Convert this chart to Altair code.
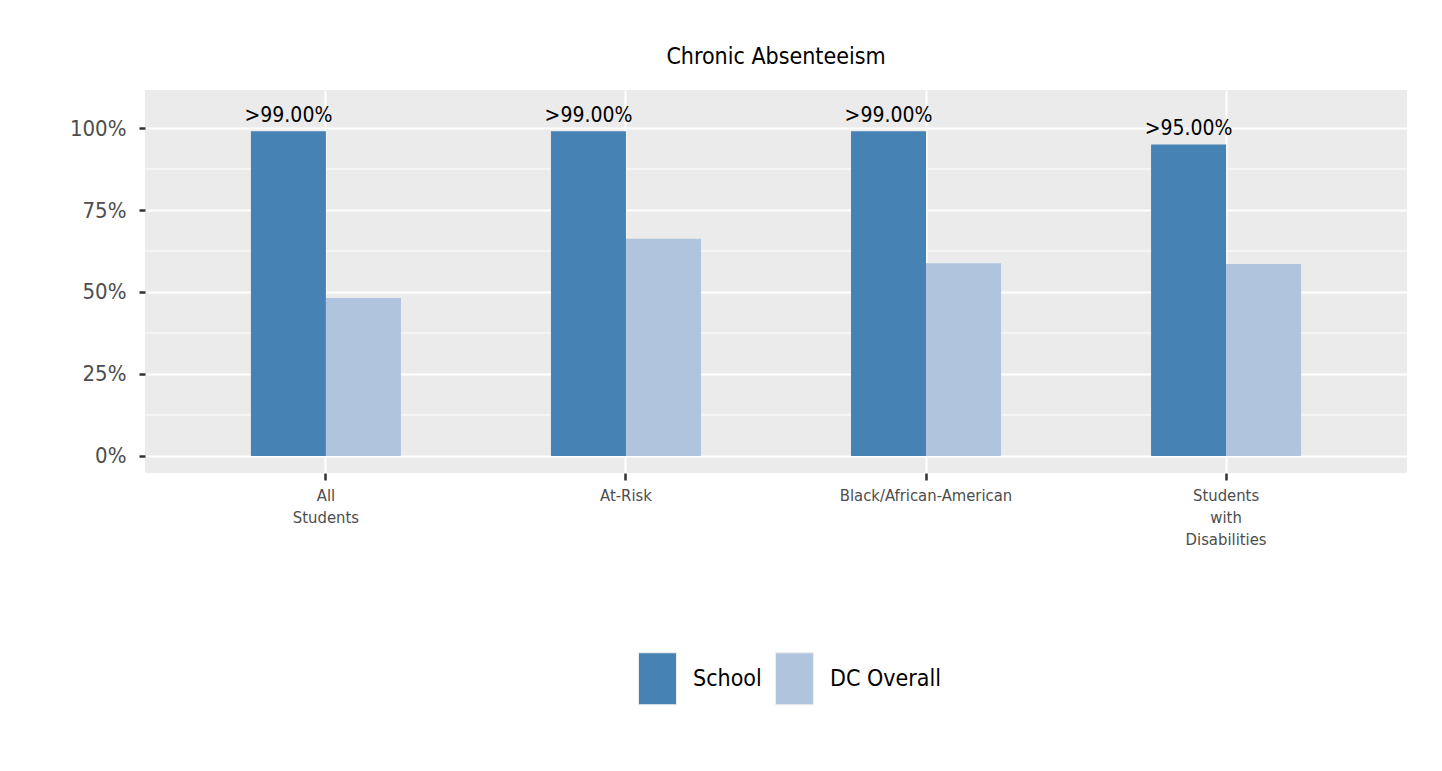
import altair as alt
import pandas as pd

categories = ["All\nStudents", "At-Risk", "Black/African-American", "Students\nwith\nDisabilities"]
groups = ["School", "DC Overall"]
school_values = [99.0, 99.0, 99.0, 95.0]
dc_values = [48.2, 66.2, 58.8, 58.5]
school_labels = [">99.00%", ">99.00%", ">99.00%", ">95.00%"]
y_ticks = [0, 25, 50, 75, 100]
minor_grid = [12.5, 37.5, 62.5, 87.5]
colors = ["#4682B4", "#B0C4DE"]

FONT = "DejaVu Sans Condensed, Liberation Sans Narrow, Liberation Sans, sans-serif"

rows = []
for c, s, d in zip(categories, school_values, dc_values):
    rows.append({"category": c, "group": "School", "value": s})
    rows.append({"category": c, "group": "DC Overall", "value": d})
df = pd.DataFrame(rows)
lab_df = pd.DataFrame({"category": categories, "group": ["School"] * 4,
                       "value": school_values, "label": school_labels})
grid_df = pd.DataFrame({"v": minor_grid})

yscale = alt.Scale(domain=[-5.2, 111.6], nice=False, zero=False)
xscale = alt.Scale(domain=categories, paddingInner=0.5, paddingOuter=0.353)
offscale = alt.Scale(domain=groups, paddingInner=0, paddingOuter=0)

minor = alt.Chart(grid_df).mark_rule(color="white", strokeWidth=1).encode(
    y=alt.Y("v:Q", scale=yscale)
)

bars = alt.Chart(df).mark_bar(stroke=None).encode(
    x=alt.X("category:N", scale=xscale, sort=categories,
            axis=alt.Axis(title=None, labelAngle=0, labelExpr="split(datum.label, '\\n')",
                          labelFontSize=16.5, labelLineHeight=22, labelColor="#4d4d4d",
                          labelFont=FONT, tickColor="#333333", tickSize=7, tickWidth=2.5,
                          labelPadding=7, domain=False, grid=True, gridColor="white",
                          gridWidth=2, bandPosition=0.5, labelBaseline="top", labelLimit=0)),
    xOffset=alt.XOffset("group:N", scale=offscale, sort=groups),
    y=alt.Y("value:Q", scale=yscale,
            axis=alt.Axis(title=None, values=y_ticks, labelExpr="datum.value + '%'",
                          labelFontSize=22, labelColor="#4d4d4d", labelFont=FONT,
                          tickColor="#333333", tickSize=6, tickWidth=2.5, labelPadding=13,
                          domain=False, grid=True, gridColor="white", gridWidth=2)),
    color=alt.Color("group:N", sort=groups,
                    scale=alt.Scale(domain=groups, range=colors),
                    legend=alt.Legend(title=None, orient="none", direction="horizontal",
                                      legendX=486, legendY=562,
                                      symbolType="M-0.73,-1L0.73,-1L0.73,1L-0.73,1Z",
                                      symbolSize=2704, symbolStrokeWidth=1,
                                      symbolStrokeColor="#eeeeee",
                                      labelFontSize=23, labelFont=FONT, labelColor="black",
                                      labelOffset=9, columnPadding=6, padding=0)),
)

texts = alt.Chart(lab_df).mark_text(fontSize=21, font=FONT, color="black",
                                    baseline="alphabetic", dy=-9).encode(
    x=alt.X("category:N", scale=xscale, sort=categories),
    xOffset=alt.XOffset("group:N", scale=offscale, sort=groups),
    y=alt.Y("value:Q", scale=yscale),
    text="label:N",
)

chart = alt.layer(minor, bars, texts).properties(
    width=1262, height=383,
    title=alt.TitleParams("Chronic Absenteeism", fontSize=23, font=FONT, color="black",
                          fontWeight="normal", anchor="middle", offset=21),
    autosize=alt.AutoSizeParams(type="none"),
    padding={"left": 137, "top": 82, "right": 27, "bottom": 290},
).configure(background="white").configure_view(fill="#EBEBEB", stroke=None)

chart.save("out.html", embed_options={"renderer": "svg", "actions": False})
